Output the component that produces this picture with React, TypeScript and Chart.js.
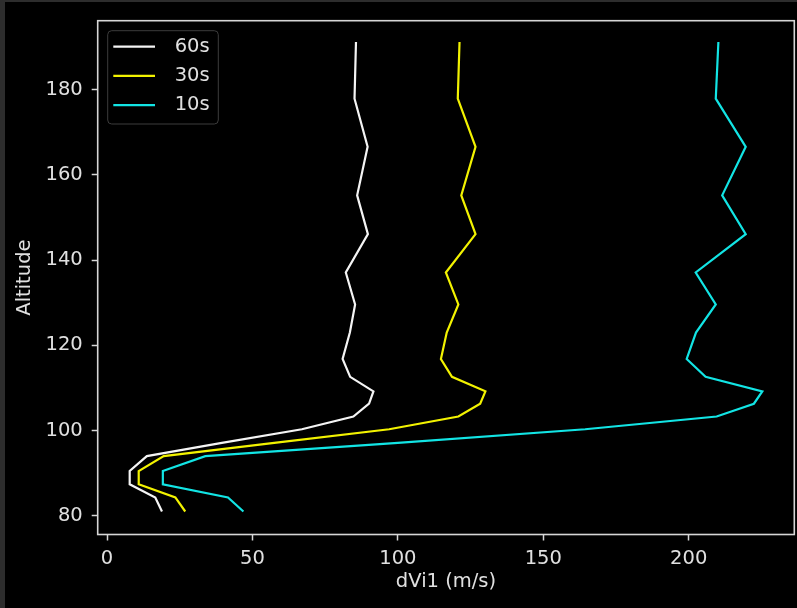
import React, { useEffect, useRef } from 'react';
import { Chart, registerables } from 'chart.js';

Chart.register(...registerables);

// ---- data ----
const ALTITUDE = [81.0, 84.3, 87.4, 90.5, 94.0, 97.1, 100.3, 103.3, 106.3, 109.2, 112.6, 116.8, 123.0, 129.6, 137.1, 146.1, 155.2, 166.6, 177.9, 191.2];
const DVI1_60S = [18.9, 16.6, 7.8, 7.8, 13.7, 39.5, 67.0, 84.7, 90.1, 91.6, 83.6, 81.0, 83.5, 85.3, 82.1, 89.7, 86.0, 89.6, 85.1, 85.6];
const DVI1_30S = [26.9, 23.5, 10.9, 10.9, 19.5, 57.5, 97.0, 120.8, 128.3, 130.1, 118.6, 114.8, 116.8, 120.8, 116.5, 126.7, 121.8, 126.7, 120.6, 121.2];
const DVI1_10S = [46.9, 41.6, 19.2, 19.2, 33.8, 100.0, 164.4, 209.6, 222.4, 225.3, 205.8, 199.3, 202.5, 209.3, 202.4, 219.6, 211.5, 219.6, 209.3, 210.2];
const SERIES_LABELS = ['60s', '30s', '10s'];
const X_TICKS = [0, 50, 100, 150, 200];
const Y_TICKS = [80, 100, 120, 140, 160, 180];
const X_TITLE = 'dVi1 (m/s)';
const Y_TITLE = 'Altitude';

const FONT = "'DejaVu Sans', sans-serif";
const FONT_SIZE = 19.5;
const TEXT = '#e0e0e0';
const AXIS = '#d6d6d6';
const COLORS = ['#f4f4f4', '#f2f200', '#12e4e4'];

const backgroundPlugin = {
  id: 'bgPlugin',
  beforeDraw(chart: any) {
    const { ctx, width, height } = chart;
    ctx.save();
    ctx.fillStyle = '#2d2d2d';
    ctx.fillRect(0, 0, width, height);
    ctx.fillStyle = '#000000';
    ctx.fillRect(5, 2, width - 5, height - 2);
    ctx.restore();
  },
};

const framePlugin = {
  id: 'framePlugin',
  afterDatasetsDraw(chart: any) {
    const { ctx, chartArea } = chart;
    const { left, top, right, bottom } = chartArea;
    ctx.save();
    ctx.strokeStyle = AXIS;
    ctx.lineWidth = 1.6;
    ctx.strokeRect(left, top, right - left, bottom - top);
    ctx.restore();
  },
};

const legendPlugin = {
  id: 'insetLegend',
  afterDraw(chart: any) {
    const { ctx, chartArea } = chart;
    const x0 = chartArea.left + 10;
    const y0 = chartArea.top + 10;
    const w = 110.6;
    const h = 93.3;
    ctx.save();
    ctx.beginPath();
    if (ctx.roundRect) ctx.roundRect(x0, y0, w, h, 4);
    else ctx.rect(x0, y0, w, h);
    ctx.fillStyle = 'rgba(0,0,0,0.8)';
    ctx.fill();
    ctx.strokeStyle = '#3c3c3c';
    ctx.lineWidth = 1;
    ctx.stroke();
    chart.data.datasets.forEach((ds: any, i: number) => {
      const y = y0 + 16 + i * 29.2;
      ctx.strokeStyle = ds.borderColor;
      ctx.lineWidth = 2.2;
      ctx.beginPath();
      ctx.moveTo(x0 + 5.6, y);
      ctx.lineTo(x0 + 47.3, y);
      ctx.stroke();
      ctx.fillStyle = TEXT;
      ctx.font = `${FONT_SIZE}px ${FONT}`;
      ctx.textBaseline = 'middle';
      ctx.textAlign = 'left';
      ctx.fillText(ds.label, x0 + 67, y);
    });
    ctx.restore();
  },
};

function makeSeries(values: number[]) {
  return values.map((v, i) => ({ x: v, y: ALTITUDE[i] }));
}

export default function App() {
  const ref = useRef<HTMLCanvasElement>(null);

  useEffect(() => {
    document.body.style.margin = '0';
    document.body.style.background = '#000';
    const series = [DVI1_60S, DVI1_30S, DVI1_10S];
    const chart = new Chart(ref.current as HTMLCanvasElement, {
      type: 'scatter',
      data: {
        datasets: series.map((vals, i) => ({
          label: SERIES_LABELS[i],
          data: makeSeries(vals),
          showLine: true,
          borderColor: COLORS[i],
          backgroundColor: COLORS[i],
          borderWidth: 2.2,
          pointRadius: 0,
          pointHoverRadius: 0,
          tension: 0,
          fill: false,
        })),
      },
      options: {
        responsive: false,
        animation: false,
        devicePixelRatio: 1,
        layout: { padding: { left: 0, top: 15, right: 2.7, bottom: 0 } },
        plugins: {
          legend: { display: false },
          tooltip: { enabled: false },
        },
        scales: {
          x: {
            type: 'linear',
            min: -3.2,
            max: 236.3,
            afterBuildTicks: (s: any) => {
              s.ticks = X_TICKS.map((v) => ({ value: v }));
            },
            afterFit: (s: any) => {
              s.height = 73.5;
            },
            grid: {
              drawOnChartArea: false,
              drawTicks: true,
              tickLength: 6,
              tickColor: AXIS,
              tickWidth: 1.5,
              color: AXIS,
            },
            border: { display: false },
            ticks: {
              color: TEXT,
              font: { family: FONT, size: FONT_SIZE },
              padding: 7,
              maxRotation: 0,
              autoSkip: false,
            },
            title: {
              display: true,
              text: X_TITLE,
              color: TEXT,
              font: { family: FONT, size: FONT_SIZE },
              padding: { top: 0, bottom: 14 },
            },
          },
          y: {
            type: 'linear',
            min: 75.6,
            max: 196.2,
            afterBuildTicks: (s: any) => {
              s.ticks = Y_TICKS.map((v) => ({ value: v }));
            },
            afterFit: (s: any) => {
              s.width = 97.7;
            },
            grid: {
              drawOnChartArea: false,
              drawTicks: true,
              tickLength: 6,
              tickColor: AXIS,
              tickWidth: 1.5,
              color: AXIS,
            },
            border: { display: false },
            ticks: {
              color: TEXT,
              font: { family: FONT, size: FONT_SIZE },
              padding: 9,
              autoSkip: false,
            },
            title: {
              display: true,
              text: Y_TITLE,
              color: TEXT,
              font: { family: FONT, size: FONT_SIZE },
              padding: { top: 13, bottom: 0 },
            },
          },
        },
      },
      plugins: [backgroundPlugin, framePlugin, legendPlugin],
    } as any);
    return () => chart.destroy();
  }, []);

  return (
    <div style={{ position: 'absolute', left: 0, top: 0, width: 797, height: 608 }}>
      <canvas ref={ref} width={797} height={608} style={{ display: 'block', width: 797, height: 608 }} />
    </div>
  );
}
